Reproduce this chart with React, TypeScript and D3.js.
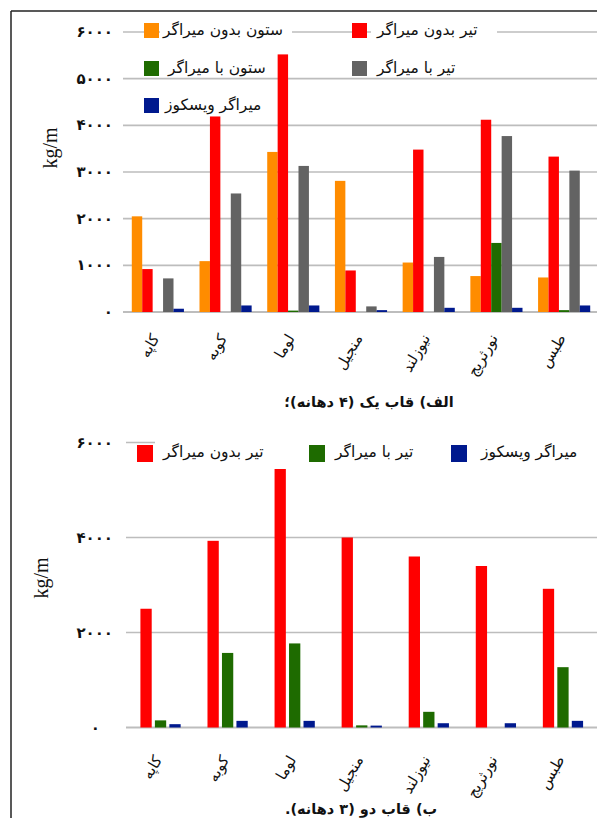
import React from 'react';
import * as d3 from 'd3';

const W = 597;
const H = 818;

// Earthquake records on the x axis
const categories = ['کاپه', 'کوبه', 'لوما', 'منجیل', 'نیوزلند', 'نورثریج', 'طبس'];

// Frame 1 (4 bays), kg/m
const colNoDamper1 = [2050, 1090, 3430, 2810, 1060, 770, 740];
const beamNoDamper1 = [920, 4190, 5520, 890, 3480, 4120, 3330];
const colDamper1 = [0, 0, 30, 0, 0, 1480, 40];
const beamDamper1 = [720, 2540, 3130, 120, 1180, 3770, 3030];
const viscous1 = [70, 140, 140, 40, 90, 90, 140];

// Frame 2 (3 bays), kg/m
const beamNoDamper2 = [2500, 3930, 5480, 4000, 3600, 3400, 2920];
const beamDamper2 = [150, 1570, 1770, 45, 330, 0, 1270];
const viscous2 = [70, 140, 140, 40, 90, 90, 140];

const seriesNames = ['ستون بدون میراگر', 'تیر بدون میراگر', 'ستون با میراگر', 'تیر با میراگر', 'میراگر ویسکوز'];
const seriesColors = ['#FF8C00', '#FF0000', '#1E6B00', '#636363', '#00198E'];

const ticks1 = [0, 1000, 2000, 3000, 4000, 5000, 6000];
const ticks2 = [0, 2000, 4000, 6000];

const caption1 = 'الف) قاب یک (۴ دهانه)؛';
const caption2 = 'ب) قاب دو (۳ دهانه).';
const yTitle = 'kg/m';

const faDigits = '۰۱۲۳۴۵۶۷۸۹';
const toFa = (n: number) => String(n).replace(/\d/g, (d) => faDigits[+d]);

const AR_FONT = '"DejaVu Sans", sans-serif';
const GRID = '#BDBDBD';

type Series = { name: string; color: string; values: number[] };

function Panel(props: {
  series: Series[];
  ticks: number[];
  y0: number;
  y1: number;
  xStart: number;
  xEnd: number;
  outerPad: number;
  innerPad: number;
  labelDy: number;
  titleX: number;
  titleY: number;
  zeroLabelX: number;
}) {
  const { series, ticks, y0, y1, xStart, xEnd, outerPad, innerPad, labelDy, titleX, titleY, zeroLabelX } = props;
  const y = d3.scaleLinear().domain([0, 6000]).range([y0, y1]);
  const x0 = d3.scaleBand<string>().domain(categories).range([xStart, xEnd]).paddingInner(outerPad).paddingOuter(outerPad / 2);
  const x1 = d3.scaleBand<string>().domain(series.map((s) => s.name)).range([0, x0.bandwidth()]).paddingInner(innerPad);

  return (
    <g>
      {ticks.map((t) => (
        <g key={t}>
          <line x1={xStart - 1} x2={W} y1={y(t)} y2={y(t)} stroke={GRID} strokeWidth={t === 0 ? 2 : 1.6} />
          <text
            x={t === 0 ? zeroLabelX : 113}
            y={y(t) + 5}
            textAnchor="end"
            fontFamily={AR_FONT}
            fontWeight="bold"
            fontSize={15}
            fill="#111"
          >
            {toFa(t)}
          </text>
        </g>
      ))}
      {categories.map((c, i) => (
        <g key={c} transform={`translate(${x0(c)},0)`}>
          {series.map((s) => {
            const v = s.values[i];
            if (v <= 0) return null;
            return (
              <rect
                key={s.name}
                x={x1(s.name)}
                y={y(v)}
                width={x1.bandwidth()}
                height={y0 - y(v)}
                fill={s.color}
              />
            );
          })}
        </g>
      ))}
      {categories.map((c) => {
        const cx = (x0(c) as number) + x0.bandwidth() / 2 + 2;
        const cy = y0 + labelDy;
        return (
          <text
            key={c}
            transform={`translate(${cx},${cy}) rotate(-60)`}
            direction="rtl"
            textAnchor="start"
            fontFamily={AR_FONT}
            fontSize={15}
            fill="#111"
          >
            {c}
          </text>
        );
      })}
      <text
        transform={`translate(${titleX},${titleY}) rotate(-90)`}
        textAnchor="middle"
        fontFamily='"Liberation Serif", serif'
        fontSize={20}
        fill="#111"
      >
        {yTitle}
      </text>
    </g>
  );
}

function LegendItem(props: { x: number; y: number; sw: number; sh: number; textX: number; baseline: number; color: string; label: string; fontSize: number }) {
  const { x, y, sw, sh, textX, baseline, color, label, fontSize } = props;
  return (
    <g>
      <rect x={x} y={y} width={sw} height={sh} fill={color} />
      <text x={textX} y={baseline} direction="rtl" textAnchor="end" fontFamily={AR_FONT} fontSize={fontSize} fill="#111">
        {label}
      </text>
    </g>
  );
}

export default function App() {
  const series1: Series[] = [
    { name: seriesNames[0], color: seriesColors[0], values: colNoDamper1 },
    { name: seriesNames[1], color: seriesColors[1], values: beamNoDamper1 },
    { name: seriesNames[2], color: seriesColors[2], values: colDamper1 },
    { name: seriesNames[3], color: seriesColors[3], values: beamDamper1 },
    { name: seriesNames[4], color: seriesColors[4], values: viscous1 },
  ];
  const series2: Series[] = [
    { name: seriesNames[1], color: seriesColors[1], values: beamNoDamper2 },
    { name: seriesNames[3], color: seriesColors[2], values: beamDamper2 },
    { name: seriesNames[4], color: seriesColors[4], values: viscous2 },
  ];

  return (
    <svg width={W} height={H} style={{ position: 'absolute', left: 0, top: 0, background: '#fff' }}>
      <rect x={0} y={0} width={W} height={H} fill="#fff" />

      {/* Frame 1 */}
      <Panel
        series={series1}
        ticks={ticks1}
        y0={312}
        y1={32}
        xStart={124}
        xEnd={598}
        outerPad={0.23}
        innerPad={0}
        labelDy={26}
        titleX={57}
        titleY={148}
        zeroLabelX={113}
      />
      {/* legend of frame 1 */}
      <rect x={160} y={22} width={132} height={18} fill="#fff" />
      <rect x={371} y={22} width={126} height={18} fill="#fff" />
      <LegendItem x={144} y={23} sw={15} sh={15} textX={163} baseline={35} color={seriesColors[0]} label={seriesNames[0]} fontSize={15.5} />
      <LegendItem x={144} y={61} sw={15} sh={15} textX={168} baseline={73} color={seriesColors[2]} label={seriesNames[2]} fontSize={15.5} />
      <LegendItem x={144} y={98} sw={15} sh={15} textX={165} baseline={110} color={seriesColors[4]} label={seriesNames[4]} fontSize={15.5} />
      <LegendItem x={352} y={23} sw={15} sh={15} textX={377} baseline={35} color={seriesColors[1]} label={seriesNames[1]} fontSize={15.5} />
      <LegendItem x={352} y={61} sw={15} sh={15} textX={377} baseline={73} color={seriesColors[3]} label={seriesNames[3]} fontSize={15.5} />
      <text x={369} y={407} direction="rtl" textAnchor="middle" fontFamily={AR_FONT} fontWeight="bold" fontSize={14.5} fill="#111">
        {caption1}
      </text>

      {/* Frame 2 */}
      <Panel
        series={series2}
        ticks={ticks2}
        y0={727.5}
        y1={442.5}
        xStart={127}
        xEnd={596.5}
        outerPad={0.4}
        innerPad={0.22}
        labelDy={32}
        titleX={48}
        titleY={578}
        zeroLabelX={100}
      />
      {/* legend of frame 2 */}
      <rect x={155} y={433} width={W - 155} height={36} fill="#fff" />
      <LegendItem x={137} y={445} sw={16} sh={17} textX={163} baseline={457} color={seriesColors[1]} label={seriesNames[1]} fontSize={15.5} />
      <LegendItem x={309} y={445} sw={16} sh={17} textX={335} baseline={457} color={seriesColors[2]} label={seriesNames[3]} fontSize={15.5} />
      <LegendItem x={451} y={445} sw={16} sh={17} textX={481} baseline={457} color={seriesColors[4]} label={seriesNames[4]} fontSize={15.5} />
      <text x={361} y={814} direction="rtl" textAnchor="middle" fontFamily={AR_FONT} fontWeight="bold" fontSize={14.5} fill="#111">
        {caption2}
      </text>

      {/* outer frame */}
      <line x1={11} x2={W} y1={11} y2={11} stroke="#222" strokeWidth={1.5} />
      <line x1={11} x2={11} y1={11} y2={H} stroke="#222" strokeWidth={1.5} />
    </svg>
  );
}
